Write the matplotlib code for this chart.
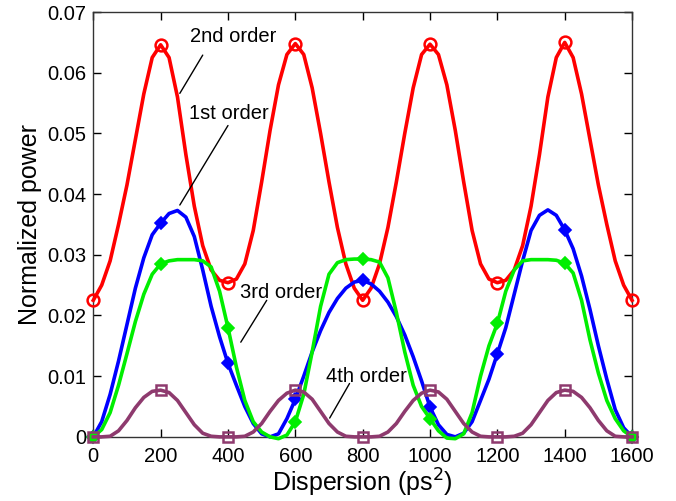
import numpy as np
import matplotlib
matplotlib.use("Agg")
import matplotlib.pyplot as plt

plt.rcParams["font.family"] = ["Liberation Sans", "DejaVu Sans"]

# ======================= data ======================= #
dispersion = np.arange(0, 1601, 25)   # ps^2

order2 = [0.0225, 0.0250, 0.0290, 0.0350, 0.0415, 0.0490, 0.0565, 0.0625, 0.0646,
          0.0625, 0.0560, 0.0465, 0.0380, 0.0315, 0.0275, 0.0258, 0.0254, 0.0260,
          0.0285, 0.0340, 0.0420, 0.0505, 0.0580, 0.0630, 0.0648, 0.0630, 0.0575,
          0.0500, 0.0420, 0.0345, 0.0285, 0.0245, 0.0225,
          0.0245, 0.0285, 0.0345, 0.0420, 0.0500, 0.0575, 0.0630, 0.0647, 0.0630,
          0.0580, 0.0505, 0.0420, 0.0340, 0.0285, 0.0260, 0.0254, 0.0258, 0.0275,
          0.0315, 0.0380, 0.0465, 0.0560, 0.0625, 0.0650, 0.0625, 0.0565, 0.0490,
          0.0415, 0.0350, 0.0290, 0.0250, 0.0225]

order1 = [0.0, 0.0025, 0.0070, 0.0125, 0.0185, 0.0245, 0.0295, 0.0333, 0.0352,
          0.0368, 0.0373, 0.0362, 0.0330, 0.0275, 0.0215, 0.0165, 0.0121, 0.0085,
          0.0050, 0.0022, 0.0005, 0.0, 0.0005, 0.0030, 0.0062, 0.0100, 0.0140,
          0.0175, 0.0205, 0.0228, 0.0245, 0.0255, 0.0258,
          0.0252, 0.0240, 0.0222, 0.0198, 0.0168, 0.0132, 0.0092, 0.0049, 0.0020,
          0.0004, 0.0, 0.0006, 0.0025, 0.0060, 0.0095, 0.0137, 0.0180, 0.0235,
          0.0290, 0.0340, 0.0365, 0.0374, 0.0365, 0.0341, 0.0310, 0.0265, 0.0210,
          0.0150, 0.0095, 0.0045, 0.0015, 0.0]

order3 = [0.0, 0.0012, 0.0040, 0.0085, 0.0137, 0.0190, 0.0235, 0.0268, 0.0285,
          0.0290, 0.0292, 0.0292, 0.0292, 0.0290, 0.0280, 0.0240, 0.0180, 0.0115,
          0.0060, 0.0025, 0.0008, 0.0, -0.0003, 0.0003, 0.0025, 0.0070, 0.0140,
          0.0215, 0.0268, 0.0287, 0.0292, 0.0293, 0.0293,
          0.0292, 0.0288, 0.0262, 0.0205, 0.0140, 0.0085, 0.0050, 0.0030, 0.0010,
          -0.0002, -0.0003, 0.0005, 0.0040, 0.0100, 0.0150, 0.0187, 0.0240, 0.0275,
          0.0290, 0.0292, 0.0292, 0.0292, 0.0291, 0.0286, 0.0270, 0.0225, 0.0160,
          0.0105, 0.0060, 0.0030, 0.0010, 0.0]

order4 = [0.0, 0.0, 0.0001, 0.0010, 0.0027, 0.0048, 0.0065, 0.0075, 0.0077,
          0.0073, 0.0060, 0.0040, 0.0020, 0.0006, 0.0001, 0.0, 0.0, 0.0,
          0.0001, 0.0008, 0.0022, 0.0042, 0.0060, 0.0072, 0.0077, 0.0074, 0.0062,
          0.0042, 0.0022, 0.0008, 0.0001, 0.0, 0.0,
          0.0, 0.0001, 0.0008, 0.0022, 0.0042, 0.0060, 0.0072, 0.0077, 0.0074,
          0.0062, 0.0042, 0.0022, 0.0008, 0.0001, 0.0, 0.0, 0.0, 0.0001,
          0.0006, 0.0020, 0.0040, 0.0060, 0.0073, 0.0077, 0.0075, 0.0065, 0.0048,
          0.0027, 0.0010, 0.0001, 0.0, 0.0]

# ============================== figure ================================== #
fig = plt.figure(figsize=(6.76, 5.01), dpi=100)
ax = fig.add_axes([0.138, 0.128, 0.797, 0.848])

mk = 8   # marker every 200 ps^2
ax.plot(dispersion, order2, "-", color="#ff0000", lw=2.6, marker="o", ms=8.5,
        mfc="none", mew=1.8, markevery=mk, clip_on=False, zorder=3)
ax.plot(dispersion, order1, "-", color="#0000ff", lw=2.6, marker="D", ms=6.5,
        mew=1.2, markevery=mk, clip_on=False, zorder=4)
ax.plot(dispersion, order3, "-", color="#00ee00", lw=2.6, marker="D", ms=6.5,
        mew=1.2, markevery=mk, clip_on=False, zorder=5)
ax.plot(dispersion, order4, "-", color="#8e3a6e", lw=2.6, marker="s", ms=7.5,
        mfc="none", mew=1.8, markevery=mk, clip_on=False, zorder=6)

ax.set_xlim(0, 1600)
ax.set_ylim(0, 0.07)
ax.set_xticks(np.arange(0, 1601, 200))
ax.set_yticks(np.arange(0, 0.071, 0.01))
ax.set_yticklabels(["0", "0.01", "0.02", "0.03", "0.04", "0.05", "0.06", "0.07"])
ax.tick_params(direction="in", top=True, right=True, length=6, width=1,
               labelsize=14.5)
ax.tick_params(axis="x", pad=7)
ax.tick_params(axis="y", pad=5)
for s in ax.spines.values():
    s.set_linewidth(1.0)
    s.set_color("#333333")

ax.set_xlabel("Dispersion (ps$^2$)", fontsize=18, labelpad=1)
ax.set_ylabel("Normalized power", fontsize=18, labelpad=4)

# ====================== annotations ====================== #
labels = [("2nd order", (415, 0.0659), (325, 0.0629), (257, 0.0566)),
          ("1st order", (402, 0.0533), (400, 0.0513), (257, 0.0382)),
          ("3rd order", (557, 0.0238), (515, 0.0225), (438, 0.0156)),
          ("4th order", (812, 0.0100), (761, 0.0088), (702, 0.0031))]
for txt, tpos, p0, p1 in labels:
    ax.text(tpos[0], tpos[1], txt, fontsize=14.5, ha="center", va="center")
    ax.annotate("", xy=p1, xytext=p0,
                arrowprops=dict(arrowstyle="-", color="black", lw=1.0,
                                shrinkA=0, shrinkB=0))

fig.savefig("out.png", dpi=100)
